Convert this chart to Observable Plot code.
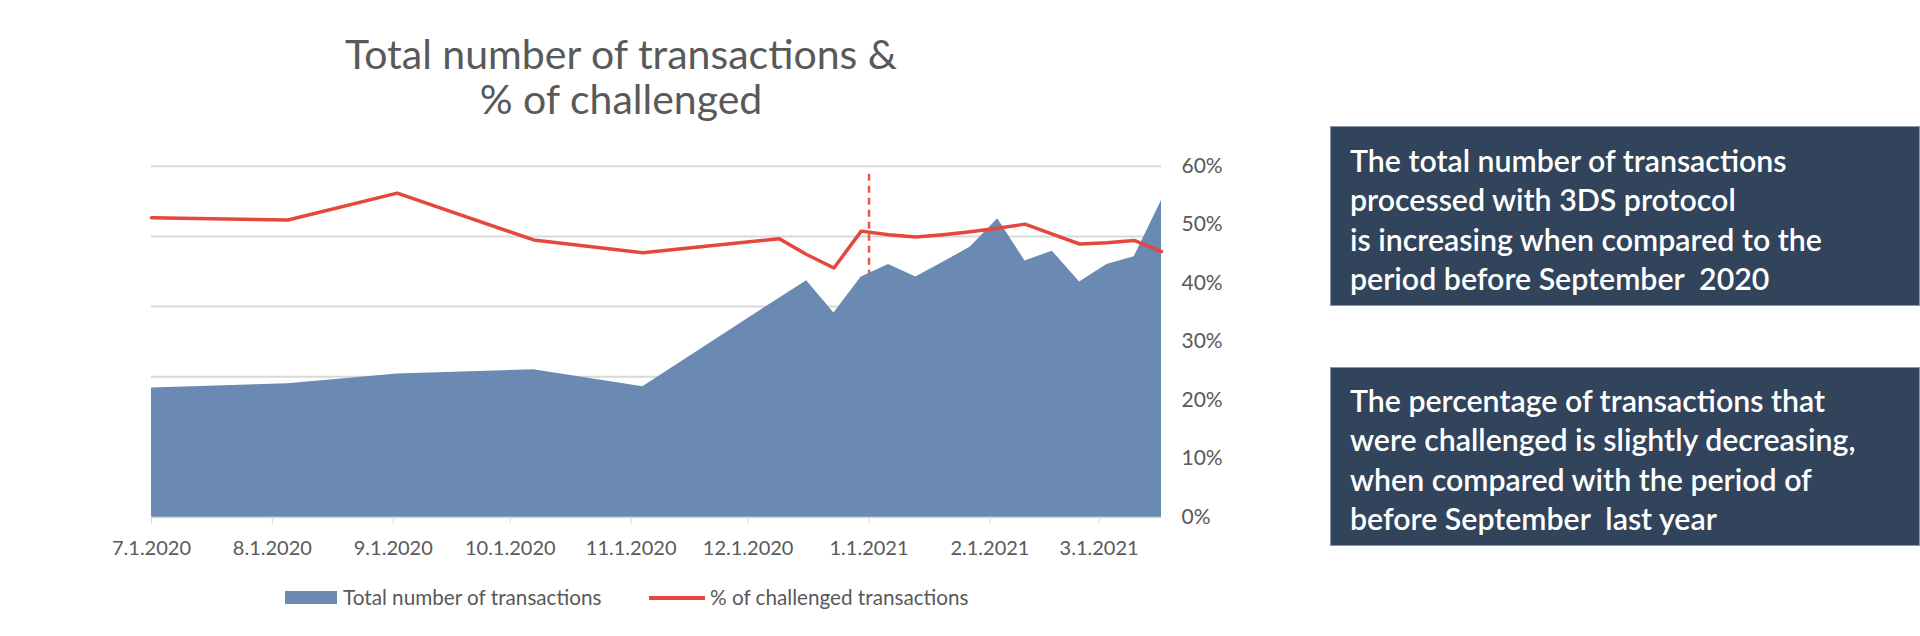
<!DOCTYPE html>
<html>
<head>
<meta charset="utf-8">
<script src="https://cdn.jsdelivr.net/npm/d3@7"></script>
<script src="https://cdn.jsdelivr.net/npm/@observablehq/plot@0.6"></script>
<style>
  html, body { margin: 0; padding: 0; background: #fff; }
  #page { position: relative; width: 1920px; height: 636px; overflow: hidden; font-family: Lato, "Open Sans", sans-serif; }
  #title { position: absolute; left: 321px; top: 31px; width: 600px; text-align: center; color: #595959; font-size: 41px; line-height: 45px; }
  #chart { position: absolute; left: 0; top: 120px; }
  .box { position: absolute; left: 1330px; width: 590px; background: #31445c; color: #fff; font-size: 30.3px; font-weight: 600; line-height: 39.3px; box-sizing: border-box; padding-left: 19px; border: 1px solid #8a97a8; white-space: nowrap; }
  #box1 { top: 126px; height: 180px; padding-top: 14px; }
  #box2 { top: 367px; height: 179px; padding-top: 13px; }
  .leg { position: absolute; color: #595959; font-size: 20.7px; line-height: 22px; white-space: nowrap; }
</style>
</head>
<body>
<div id="page">
  <div id="title">Total number of transactions &amp;<br>% of challenged</div>
  <div id="chart"></div>
  <div class="box" id="box1">The total number of transactions<br>processed with 3DS protocol<br>is increasing when compared to the<br>period before September&nbsp; 2020</div>
  <div class="box" id="box2">The percentage of transactions that<br>were challenged is slightly decreasing,<br>when compared with the period of<br>before September&nbsp; last year</div>
  <div id="legend"></div>
</div>
<script>
// ---- data ----
const dates = ["2020-07-01","2020-08-05","2020-09-02","2020-10-07","2020-11-04","2020-12-09","2020-12-16","2020-12-23","2020-12-30","2021-01-06","2021-01-13","2021-01-20","2021-01-27","2021-02-03","2021-02-10","2021-02-17","2021-02-24","2021-03-03","2021-03-10","2021-03-17"];
// total number of transactions (thousands, hidden left axis 0–500)
const totals = [184, 190, 204, 210, 186, 312, 337, 291, 342, 360, 342, 363, 385, 425, 365, 379, 335, 360, 371, 451];
// % of challenged transactions
const challenged = [51.2, 50.8, 55.4, 47.4, 45.2, 47.6, 44.9, 42.6, 48.9, 48.3, 47.9, 48.3, 48.8, 49.4, 50.1, 48.4, 46.7, 46.9, 47.3, 45.4];
const totalTicks = [0, 100, 200, 300, 400, 500];
const pctTicks = [0, 10, 20, 30, 40, 50, 60];
const markerDate = "2021-01-01";
const seriesNames = ["Total number of transactions", "% of challenged transactions"];

const totalMax = 500, pctMax = 60;
const k = pctMax / totalMax; // map totals into the percentage axis space

const data = dates.map((d, i) => ({date: new Date(d), total: totals[i], pct: challenged[i]}));
const xDomain = [new Date(dates[0]), new Date(dates[dates.length - 1])];
const fmt = d3.utcFormat("%-m.%-d.%Y");

const plot = Plot.plot({
  width: 1260,
  height: 460,
  marginLeft: 151,
  marginRight: 99,
  marginTop: 45.7,
  marginBottom: 63.3,
  style: {fontFamily: "Lato, 'Open Sans', sans-serif", fontSize: "21px", background: "transparent"},
  x: {type: "utc", domain: xDomain},
  y: {domain: [0, pctMax]},
  marks: [
    Plot.gridY(totalTicks.map(v => v * k), {stroke: "#d9d9d9", strokeOpacity: 1, strokeWidth: 2}),
    Plot.ruleX([new Date(markerDate)], {y1: 0, y2: 59.3, stroke: "#e8554d", strokeWidth: 2.5, strokeDasharray: "7,5"}),
    Plot.areaY(data, {x: "date", y: d => d.total * k, fill: "#6a8ab3"}),
    Plot.lineY(data, {x: "date", y: "pct", stroke: "#e5463d", strokeWidth: 3.5}),
    Plot.axisY(pctTicks, {anchor: "right", tickSize: 0, tickPadding: 20, tickFormat: d => d + "%", fill: "#595959", fontSize: 21, label: null}),
    Plot.axisX(d3.utcMonths(new Date("2020-07-01"), new Date("2021-03-02")), {tickSize: 7, tickPadding: 16.5, tickFormat: fmt, stroke: "#d9d9d9", fill: "#595959", fontSize: 20, label: null})
  ]
});
document.getElementById("chart").appendChild(plot);

// legend
const legend = document.getElementById("legend");
legend.innerHTML = `
  <div style="position:absolute;left:285px;top:591px;width:52px;height:13px;background:#6a8ab3"></div>
  <div class="leg" style="left:343px;top:586px">${seriesNames[0]}</div>
  <div style="position:absolute;left:649px;top:596px;width:56px;height:3.5px;background:#e5463d"></div>
  <div class="leg" style="left:710px;top:586px">${seriesNames[1]}</div>`;
</script>
</body>
</html>
